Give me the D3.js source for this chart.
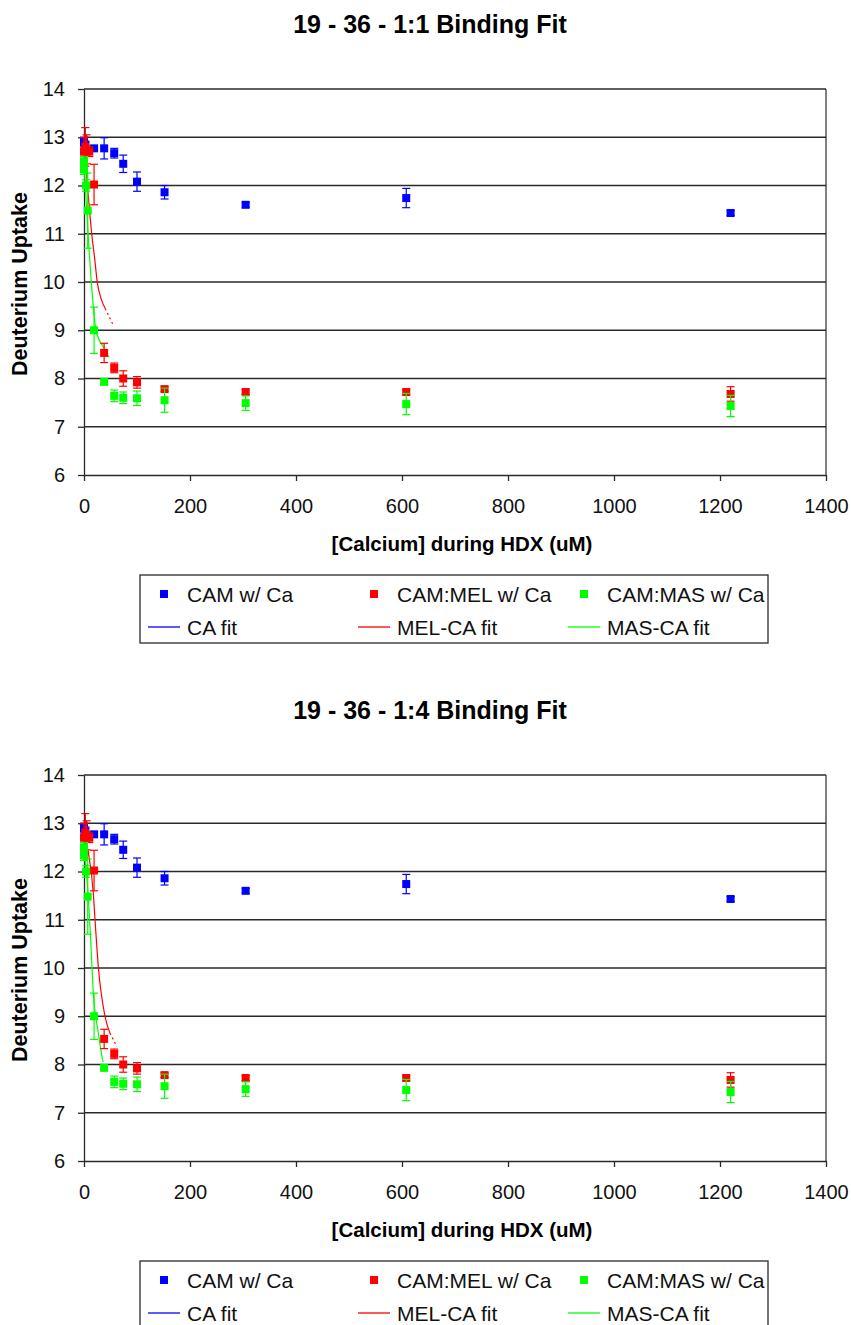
<!DOCTYPE html>
<html>
<head>
<meta charset="utf-8">
<script src="https://cdn.jsdelivr.net/npm/d3@7"></script>
<style>
  body { margin: 0; background: #fff; }
  svg { display: block; font-family: "Liberation Sans", Arial, sans-serif; }
</style>
</head>
<body>
<div class="charts"></div>
<script>
// data
const xTicks = [0, 200, 400, 600, 800, 1000, 1200, 1400]
const yTicks = [6, 7, 8, 9, 10, 11, 12, 13, 14]

const camX = [0, 2.5, 19, 38, 57, 74, 100, 152, 305, 608, 1220]
const camY = [12.9, 12.85, 12.77, 12.77, 12.67, 12.45, 12.08, 11.86, 11.6, 11.74, 11.43]
const camErr = [0.1, 0.05, 0.05, 0.22, 0.1, 0.18, 0.2, 0.14, 0.05, 0.2, 0.05]

const melX = [0, 2.5, 5, 10, 19, 38, 57, 74, 100, 152, 305, 608, 1220]
const melY = [12.7, 12.8, 12.75, 12.7, 12.02, 8.53, 8.22, 8.0, 7.92, 7.78, 7.72, 7.72, 7.68]
const melErr = [0.3, 0.4, 0.3, 0.1, 0.42, 0.2, 0.1, 0.16, 0.12, 0.05, 0.05, 0.05, 0.15]

const masX = [0, 0, 4, 7, 19, 38, 57, 74, 100, 152, 305, 608, 1220]
const masY = [12.5, 12.33, 12.0, 11.48, 9.0, 7.93, 7.64, 7.6, 7.59, 7.55, 7.49, 7.47, 7.43]
const masErr = [0.1, 0.1, 0.12, 0.78, 0.48, 0.05, 0.12, 0.12, 0.15, 0.25, 0.15, 0.22, 0.22]

// fit curves (1:1 chart)
const melFit1X = [0, 3, 8, 14.5, 20, 25, 33, 40, 54]
const melFit1Y = [12.8, 12.5, 11.8, 11.0, 10.5, 10.0, 9.63, 9.45, 9.13]
const masFit1X = [0, 5, 9.4, 17.6, 22.6, 36.5, 48]
const masFit1Y = [12.5, 11.5, 10.7, 9.49, 9.0, 8.66, 8.43]

// fit curves (1:4 chart)
const melFit4X = [0, 8, 17.6, 20.8, 27, 39.6, 49, 62]
const melFit4Y = [12.8, 12.4, 11.55, 11.0, 10.03, 9.0, 8.65, 8.37]
const masFit4X = [0, 8, 12, 17.6, 27, 35, 40]
const masFit4Y = [12.5, 11.48, 10.72, 9.48, 8.65, 8.09, 7.95]

const caFitX = []
const caFitY = []

const titles = ["19 - 36 - 1:1 Binding Fit", "19 - 36 - 1:4 Binding Fit"]
const legendLabels = ["CAM w/ Ca", "CAM:MEL w/ Ca", "CAM:MAS w/ Ca", "CA fit", "MEL-CA fit", "MAS-CA fit"]
const colors = ["#0000ff", "#ff0000", "#00ff00"]

const width = 851
const height = 1325
const margin = { left: 84, right: 25 }

const svg = d3.select(".charts")
    .append("svg")
    .attr("width", width)
    .attr("height", height)

const zip = (xs, ys) => xs.map((x, i) => [x, ys[i]])

const charts = [
    { top: 0, fits: [zip(caFitX, caFitY), zip(melFit1X, melFit1Y), zip(masFit1X, masFit1Y)] },
    { top: 686, fits: [zip(caFitX, caFitY), zip(melFit4X, melFit4Y), zip(masFit4X, masFit4Y)] }
]

const series = [
    { xs: camX, ys: camY, err: camErr },
    { xs: melX, ys: melY, err: melErr },
    { xs: masX, ys: masY, err: masErr }
]

charts.forEach((c, ci) => {
    const g = svg.append("g").attr("transform", `translate(0, ${c.top})`)

    const x = d3.scaleLinear().domain([0, 1400]).range([margin.left, 826])
    const y = d3.scaleLinear().domain([6, 14]).range([475, 89])

    g.append("text")
        .text(titles[ci])
        .attr("x", 430)
        .attr("y", 33)
        .attr("text-anchor", "middle")
        .attr("font-weight", "bold")
        .attr("font-size", 25)
        .attr("fill", "#000")

    // gridlines
    g.append("g")
        .selectAll("line")
        .data(yTicks.slice(1))
        .join("line")
        .attr("x1", x(0))
        .attr("x2", x(1400))
        .attr("y1", d => y(d))
        .attr("y2", d => y(d))
        .attr("stroke", "#2a2a2a")
        .attr("stroke-width", 1.4)

    // right frame
    g.append("line")
        .attr("x1", x(1400)).attr("x2", x(1400))
        .attr("y1", y(14)).attr("y2", y(6))
        .attr("stroke", "#2a2a2a")
        .attr("stroke-width", 1.2)

    const xAxis = d3.axisBottom(x).tickValues(xTicks).tickFormat(d3.format("d"))
        .tickSize(6).tickSizeOuter(0).tickPadding(18)
    const yAxis = d3.axisLeft(y).tickValues(yTicks).tickSize(6).tickSizeOuter(0).tickPadding(13)

    const gx = g.append("g")
        .attr("transform", `translate(0, ${y(6)})`)
        .call(xAxis)
    const gy = g.append("g")
        .attr("transform", `translate(${x(0)}, 0)`)
        .call(yAxis)

    ;[gx, gy].forEach(a => {
        a.selectAll("path, line").attr("stroke", "#2a2a2a").attr("stroke-width", 1.3)
        a.selectAll("text")
            .attr("font-size", 20)
            .attr("fill", "#111")
            .attr("font-family", "Liberation Sans, Arial, sans-serif")
    })

    g.append("text")
        .text("[Calcium] during HDX (uM)")
        .attr("x", 462)
        .attr("y", 551)
        .attr("text-anchor", "middle")
        .attr("font-weight", "bold")
        .attr("font-size", 20.5)

    g.append("text")
        .text("Deuterium Uptake")
        .attr("transform", `translate(27, 284) rotate(-90)`)
        .attr("text-anchor", "middle")
        .attr("font-weight", "bold")
        .attr("font-size", 21.5)

    const plot = g.append("g")

    // fit lines: solid part plus a dotted tail
    const line = d3.line().x(d => x(d[0])).y(d => y(d[1])).curve(d3.curveMonotoneX)
    c.fits.forEach((pts, i) => {
        if (pts.length < 2) return
        const n = pts.length
        plot.append("path")
            .attr("d", line(pts.slice(0, n - 1)))
            .attr("fill", "none")
            .attr("stroke", colors[i])
            .attr("stroke-width", 1.2)
        plot.append("path")
            .attr("d", line(pts.slice(n - 2)))
            .attr("fill", "none")
            .attr("stroke", colors[i])
            .attr("stroke-width", 1.2)
            .attr("stroke-dasharray", "2,3")
    })

    // error bars + markers
    series.forEach((s, si) => {
        const pts = s.xs.map((v, i) => ({ x: v, y: s.ys[i], e: s.err[i] }))
        const eg = plot.append("g").attr("stroke", colors[si]).attr("stroke-width", 1.2)
        eg.selectAll("line.v")
            .data(pts)
            .join("line")
            .attr("class", "v")
            .attr("x1", d => x(d.x)).attr("x2", d => x(d.x))
            .attr("y1", d => y(d.y + d.e)).attr("y2", d => y(d.y - d.e))
        eg.selectAll("line.top")
            .data(pts)
            .join("line")
            .attr("class", "top")
            .attr("x1", d => x(d.x) - 4).attr("x2", d => x(d.x) + 4)
            .attr("y1", d => y(d.y + d.e)).attr("y2", d => y(d.y + d.e))
        eg.selectAll("line.bot")
            .data(pts)
            .join("line")
            .attr("class", "bot")
            .attr("x1", d => x(d.x) - 4).attr("x2", d => x(d.x) + 4)
            .attr("y1", d => y(d.y - d.e)).attr("y2", d => y(d.y - d.e))

        plot.append("g")
            .selectAll("rect")
            .data(pts)
            .join("rect")
            .attr("x", d => x(d.x) - 4)
            .attr("y", d => y(d.y) - 4)
            .attr("width", 8)
            .attr("height", 8)
            .attr("fill", colors[si])
    })

    // legend
    const lg = g.append("g")
    lg.append("rect")
        .attr("x", 140).attr("y", 575)
        .attr("width", 628).attr("height", 68)
        .attr("fill", "none")
        .attr("stroke", "#2a2a2a")
        .attr("stroke-width", 1.3)

    const colX = [187, 397, 607]
    legendLabels.forEach((lab, i) => {
        const col = i % 3
        const row = Math.floor(i / 3)
        const ly = row === 0 ? 594 : 627
        if (row === 0) {
            lg.append("rect")
                .attr("x", colX[col] - 27).attr("y", ly - 4)
                .attr("width", 8).attr("height", 8)
                .attr("fill", colors[col])
        } else {
            lg.append("line")
                .attr("x1", colX[col] - 39).attr("x2", colX[col] - 7)
                .attr("y1", ly).attr("y2", ly)
                .attr("stroke", colors[col])
                .attr("stroke-width", 1.3)
        }
        lg.append("text")
            .text(lab)
            .attr("x", colX[col])
            .attr("y", ly + 7.5)
            .attr("font-size", 21)
            .attr("fill", "#111")
    })
})
</script>
</body>
</html>
